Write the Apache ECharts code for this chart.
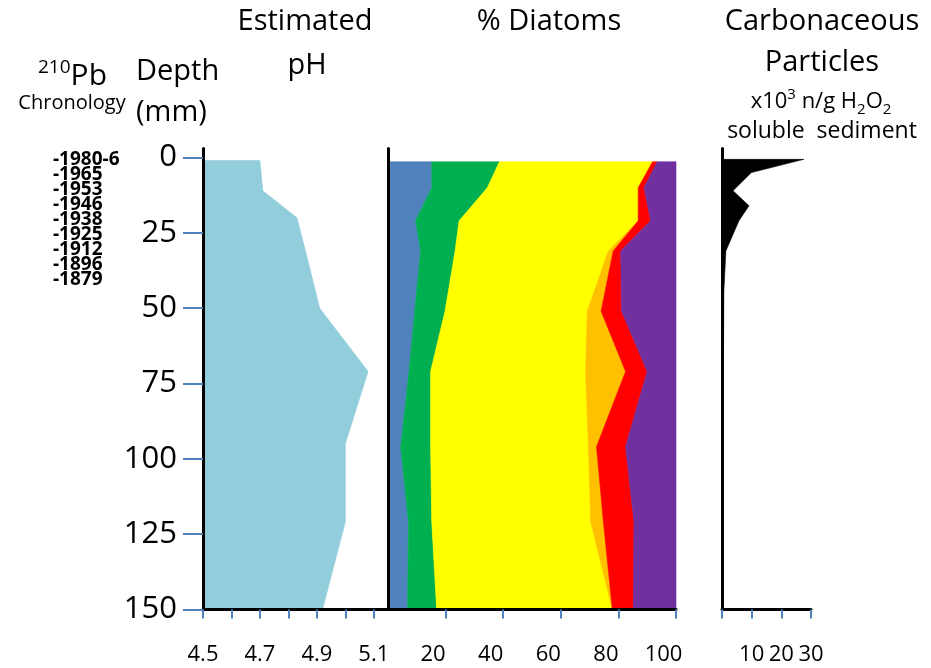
<!DOCTYPE html>
<html>
<head>
<meta charset="utf-8">
<script src="https://cdn.jsdelivr.net/npm/echarts@6/dist/echarts.min.js"></script>
<style>
  html, body { margin: 0; padding: 0; background: #ffffff; }
  #chart { width: 931px; height: 668px; }
</style>
</head>
<body>
<div id="chart"></div>
<script>
// ---- Depth scale (mm) ----
const depthTicks = [0, 25, 50, 75, 100, 125, 150];

// ---- 210Pb chronology, one date per 5 mm slice from the top ----
const chronology = ['-1980-6', '-1965', '-1953', '-1946', '-1938', '-1925', '-1912', '-1896', '-1879'];

// ---- Estimated pH ----
const phDepths = [1, 11, 20, 31, 50, 71, 95, 121, 150];
const phValues = [4.70, 4.71, 4.83, 4.86, 4.91, 5.08, 5.00, 5.00, 4.92];
const phTicks = [4.5, 4.6, 4.7, 4.8, 4.9, 5.0, 5.1];
const phLabels = [4.5, 4.7, 4.9, 5.1];

// ---- % Diatoms, one array per group (stacked left to right) ----
const diatomDepths = [1.4, 10, 21, 31, 51, 71, 96, 121, 150];
const bandBlue   = [15.2, 15.2, 9.6, 11.3, 9.3, 7.3, 4.4, 7.1, 6.8];
const bandGreen  = [23.5, 19.3, 15.1, 12.0, 10.5, 7.5, 10.4, 8.1, 10.1];
const bandYellow = [53.2, 52.4, 62.2, 53.2, 49.4, 53.8, 54.8, 55.2, 61.0];
const bandOrange = [0, 0, 0, 1.7, 4.8, 13.9, 2.8, 4.4, 0];
const bandRed    = [1.6, 2.0, 4.3, 2.6, 7.1, 7.5, 10.1, 10.6, 7.3];
const bandPurple = [6.5, 11.1, 8.8, 19.2, 18.9, 10.0, 17.5, 14.6, 14.8];
const diatomTicks = [20, 40, 60, 80, 100];

// ---- Carbonaceous particles (x10^3 n/g H2O2 soluble sediment) ----
const carbonDepths = [0.6, 5, 11, 16, 21, 31, 45, 150];
const carbonValues = [27.6, 9.9, 3.7, 9.1, 5.7, 1.3, 0.6, 0.1];
const carbonTicks = [0, 10, 20, 30];
const carbonLabels = [10, 20, 30];

const FONT = "'Open Sans', 'Noto Sans', sans-serif";
const TICK_BLUE = '#4F81BD';
const diatomBands = [bandBlue, bandGreen, bandYellow, bandOrange, bandRed, bandPurple];
const diatomColors = ['#4F81BD', '#00B050', '#FFFF00', '#FFC000', '#FF0000', '#7030A0'];

// cumulative band edges for the stacked diatom profile
const diatomEdges = [diatomDepths.map(() => 0)];
diatomBands.forEach((band, i) => {
  diatomEdges.push(band.map((v, j) => diatomEdges[i][j] + v));
});

const chart = echarts.init(document.getElementById('chart'), null, { renderer: 'canvas' });

const GRID_TOP = 148.5;
const GRID_HEIGHT = 461;
const DEPTH_MIN = -3;
const DEPTH_MAX = 150;

function depthAxis(gridIndex, withLabels) {
  return {
    type: 'value', gridIndex: gridIndex, inverse: true,
    min: DEPTH_MIN, max: DEPTH_MAX, z: 5,
    splitLine: { show: false },
    axisLine: { show: true, lineStyle: { color: '#000', width: 3 } },
    axisTick: withLabels
      ? { show: true, customValues: depthTicks, length: 20, lineStyle: { color: TICK_BLUE, width: 2 } }
      : { show: false },
    axisLabel: withLabels
      ? { show: true, customValues: depthTicks, margin: 26, color: '#000', fontSize: 31, fontFamily: FONT }
      : { show: false }
  };
}

function bottomAxis(gridIndex, min, max, ticks, labels, extraLabel) {
  return {
    type: 'value', gridIndex: gridIndex, min: min, max: max, z: 5,
    splitLine: { show: false },
    axisLine: { show: true, onZero: false, lineStyle: { color: '#000', width: 3 } },
    axisTick: { show: true, customValues: ticks, length: 9, lineStyle: { color: TICK_BLUE, width: 2 } },
    axisLabel: Object.assign({
      show: true, customValues: labels, margin: 34, color: '#000', fontSize: 22, fontFamily: FONT
    }, extraLabel || {})
  };
}

// polygon drawn through the axis scales
function polygonSeries(xIdx, yIdx, pointsFn, color, z) {
  return {
    type: 'custom', xAxisIndex: xIdx, yAxisIndex: yIdx, clip: false, z: z || 2,
    silent: true,
    data: [[0, 0]],
    renderItem: function (params, api) {
      const pts = pointsFn().map(p => api.coord(p));
      return {
        type: 'polygon',
        shape: { points: pts },
        style: { fill: color, stroke: color, lineWidth: 0.6 }
      };
    }
  };
}

const series = [];

// pH profile, filled from the axis minimum
series.push(polygonSeries(0, 0, function () {
  const pts = phDepths.map((d, j) => [phValues[j], d]);
  pts.push([4.5, phDepths[phDepths.length - 1]]);
  pts.push([4.5, phDepths[0]]);
  return pts;
}, '#92CDDC'));

// stacked diatom bands
diatomBands.forEach((band, i) => {
  series.push(polygonSeries(1, 1, function () {
    const right = diatomDepths.map((d, j) => [diatomEdges[i + 1][j], d]);
    const left = diatomDepths.map((d, j) => [diatomEdges[i][j], d]).reverse();
    return right.concat(left);
  }, diatomColors[i], 2 + i * 0.01));
});

// carbonaceous particle profile
series.push(polygonSeries(2, 2, function () {
  const pts = carbonDepths.map((d, j) => [carbonValues[j], d]);
  pts.push([0, carbonDepths[carbonDepths.length - 1]]);
  pts.push([0, carbonDepths[0]]);
  return pts;
}, '#000000'));

function title(text, x, y, size, align) {
  return {
    type: 'text', x: x, y: y, silent: true,
    style: {
      text: text, fill: '#000', font: size + 'px ' + FONT,
      align: align || 'center', verticalAlign: 'middle'
    }
  };
}

const graphics = [
  title('Estimated', 305, 22, 29),
  title('pH', 307, 66, 29),
  title('% Diatoms', 549, 22, 29),
  title('Carbonaceous', 822, 22, 29),
  title('Particles', 822, 63, 29),
  {
    type: 'text', x: 821, y: 102, silent: true,
    style: {
      text: '{t|x10}{sup|3}{t| n/g H}{sub|2}{t|O}{sub|2}',
      align: 'center', verticalAlign: 'middle',
      rich: {
        t: { fontSize: 22, fontFamily: FONT, fill: '#000', lineHeight: 30, verticalAlign: 'middle' },
        sup: { fontSize: 15, fontFamily: FONT, fill: '#000', lineHeight: 30, verticalAlign: 'top' },
        sub: { fontSize: 15, fontFamily: FONT, fill: '#000', lineHeight: 30, verticalAlign: 'bottom' }
      }
    }
  },
  title('soluble  sediment', 822, 131, 23),
  {
    type: 'text', x: 38, y: 76, silent: true,
    style: {
      text: '{sup|210}{big|Pb}',
      align: 'left', verticalAlign: 'middle',
      rich: {
        big: { fontSize: 30, fontFamily: FONT, fill: '#000', lineHeight: 36, verticalAlign: 'middle' },
        sup: { fontSize: 19, fontFamily: FONT, fill: '#000', lineHeight: 36, verticalAlign: 'top' }
      }
    }
  },
  title('Chronology', 72, 103, 20),
  title('Depth', 136, 72, 29, 'left'),
  title('(mm)', 136, 113, 29, 'left')
];

chronology.forEach((label, i) => {
  graphics.push({
    type: 'text', x: 53, y: 160 + i * 15, silent: true,
    style: {
      text: label, fill: '#000', font: 'bold 19px ' + FONT,
      align: 'left', verticalAlign: 'middle'
    }
  });
});

chart.setOption({
  animation: false,
  backgroundColor: '#ffffff',
  grid: [
    { left: 203, top: GRID_TOP, width: 185, height: GRID_HEIGHT },
    { left: 388, top: GRID_TOP, width: 288, height: GRID_HEIGHT },
    { left: 722, top: GRID_TOP, width: 89, height: GRID_HEIGHT }
  ],
  xAxis: [
    bottomAxis(0, 4.5, 5.15, phTicks, phLabels, { formatter: v => v.toFixed(1) }),
    bottomAxis(1, 0, 100, diatomTicks, diatomTicks, { padding: [0, 25, 0, 0] }),
    bottomAxis(2, 0, 30, carbonTicks, carbonLabels)
  ],
  yAxis: [
    depthAxis(0, true),
    depthAxis(1, false),
    depthAxis(2, false)
  ],
  series: series,
  graphic: graphics
});
</script>
</body>
</html>
